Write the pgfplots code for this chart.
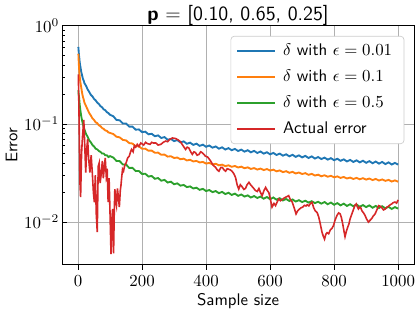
\documentclass[border=0pt]{standalone}
\usepackage{pgfplots}
\pgfplotsset{compat=1.18}
\definecolor{tabblue}{HTML}{1F77B4}
\definecolor{taborange}{HTML}{FF7F0E}
\definecolor{tabgreen}{HTML}{2CA02C}
\definecolor{tabred}{HTML}{D62728}
\definecolor{gridgray}{HTML}{B0B0B0}
\definecolor{leggray}{HTML}{CCCCCC}
\begin{document}
\begin{tikzpicture}
\begin{axis}[
  scale only axis,
  width=209pt, height=141.7pt,
  xmin=-50, xmax=1050,
  ymode=log, ymin=0.00368, ymax=1,
  xtick={0,200,400,600,800,1000},
  ytick={0.01,0.1,1},
  xticklabel style={/pgf/number format/1000 sep={}, inner xsep=0pt},
  yticklabel style={inner xsep=1.5pt},
  tick pos=left,
  xtick align=outside,
  ytick align=inside,
  major tick length=3pt, minor tick length=1.8pt,
  every tick/.style={black, line width=0.5pt},
  grid=major,
  major grid style={gridgray, line width=0.5pt},
  axis line style={line width=0.6pt},
  xlabel={\sffamily Sample size},
  ylabel={\sffamily Error},
  xlabel style={yshift=3pt},
  ylabel style={yshift=-1pt},
  title={\sffamily\textbf{p} $=$ [0.10, 0.65, 0.25]},
  title style={font=\large, yshift=-9.5pt},
  legend style={at={(0.972,0.958)}, anchor=north east, font=\sffamily,
    draw=leggray, rounded corners=2pt, fill=white,
    row sep=3pt, inner xsep=3pt, inner ysep=2.5pt,
    nodes={inner xsep=4pt}},
  legend cell align=left,
  legend image code/.code={\draw[#1, line width=1.3pt] (0cm,0.15pt) -- (0.8cm,0.15pt);},
]
\addplot[tabblue, line width=1.1pt] coordinates {
(1,0.61)(2,0.55)(3,0.50)(4,0.47)(5,0.43)(7,0.39)(10,0.34)(13,0.31)(15,0.29)(18,0.275)(20,0.26)(25,0.245)(30,0.225)(35,0.212)(40,0.198)(45,0.191)(50,0.180)(55,0.174)(60,0.165)(65,0.160)(70,0.152)(75,0.148)(80,0.141)(85,0.138)(90,0.132)(95,0.129)
(100,0.124)(110,0.120)(120,0.110)(130,0.109)(140,0.101)(150,0.101)(160,0.094)(170,0.094)(180,0.0875)(190,0.088)
(200,0.0825)(210,0.0835)(220,0.0785)(230,0.0795)(240,0.075)(250,0.0765)(260,0.072)(270,0.0735)(280,0.069)(290,0.0705)
(300,0.0668)(310,0.0685)(320,0.0648)(330,0.0665)(340,0.0628)(350,0.0645)(360,0.0612)(370,0.063)(380,0.0598)(390,0.0616)
(400,0.0585)(410,0.0603)(420,0.0573)(430,0.059)(440,0.056)(450,0.0578)(460,0.0549)(470,0.0567)(480,0.054)(490,0.0557)
(500,0.053)(510,0.0548)(520,0.0522)(530,0.054)(540,0.0514)(550,0.0532)(560,0.0506)(570,0.0524)(580,0.0498)(590,0.0515)
(600,0.049)(610,0.0507)(620,0.0483)(630,0.0499)(640,0.0475)(650,0.0491)(660,0.0468)(670,0.0485)(680,0.0462)(690,0.0479)
(700,0.0456)(710,0.0473)(720,0.045)(730,0.0467)(740,0.0444)(750,0.046)(760,0.0439)(770,0.0454)(780,0.0433)(790,0.0448)
(800,0.0427)(810,0.0442)(820,0.0421)(830,0.0436)(840,0.0415)(850,0.043)(860,0.041)(870,0.0426)(880,0.0406)(890,0.0422)
(900,0.0402)(910,0.0418)(920,0.0398)(930,0.0414)(940,0.0394)(950,0.041)(960,0.039)(970,0.0406)(980,0.0386)(990,0.0401)(1000,0.0385)
};
\addlegendentry{$\delta$ with $\epsilon=0.01$}
\addplot[taborange, line width=1.1pt] coordinates {
(1,0.52)(2,0.44)(3,0.38)(4,0.34)(5,0.31)(7,0.27)(10,0.235)(13,0.205)(15,0.19)(18,0.176)(20,0.165)(25,0.152)(30,0.14)(35,0.129)(40,0.122)(45,0.114)(50,0.11)(55,0.104)(60,0.102)(65,0.097)(70,0.095)(75,0.091)(80,0.089)(85,0.086)(90,0.085)(95,0.082)
(100,0.0810)(110,0.0790)(120,0.0742)(130,0.0730)(140,0.0688)(150,0.0680)(160,0.0638)(170,0.0632)(180,0.0594)(190,0.0592)
(200,0.0559)(210,0.0560)(220,0.0534)(230,0.0535)(240,0.0509)(250,0.0510)(260,0.0485)(270,0.0488)(280,0.0465)(290,0.0469)
(300,0.0450)(310,0.0455)(320,0.0437)(330,0.0443)(340,0.0425)(350,0.0431)(360,0.0415)(370,0.0420)(380,0.0405)(390,0.0410)
(400,0.0395)(410,0.0401)(420,0.0387)(430,0.0393)(440,0.0379)(450,0.0385)(460,0.0372)(470,0.0379)(480,0.0366)(490,0.0373)
(500,0.0360)(510,0.0367)(520,0.0354)(530,0.0361)(540,0.0348)(550,0.0355)(560,0.0343)(570,0.0351)(580,0.0339)(590,0.0347)
(600,0.0335)(610,0.0342)(620,0.0329)(630,0.0336)(640,0.0323)(650,0.0330)(660,0.0318)(670,0.0325)(680,0.0313)(690,0.0320)
(700,0.0309)(710,0.0315)(720,0.0303)(730,0.0310)(740,0.0298)(750,0.0304)(760,0.0293)(770,0.0300)(780,0.0290)(790,0.0296)
(800,0.0286)(810,0.0292)(820,0.0282)(830,0.0288)(840,0.0278)(850,0.0284)(860,0.0275)(870,0.0282)(880,0.0273)(890,0.0280)
(900,0.0271)(910,0.0278)(920,0.0268)(930,0.0275)(940,0.0265)(950,0.0272)(960,0.0263)(970,0.0269)(980,0.0259)(990,0.0266)(1000,0.0258)
};
\addlegendentry{$\delta$ with $\epsilon=0.1$}
\addplot[tabgreen, line width=1.1pt] coordinates {
(1,0.22)(2,0.20)(3,0.19)(4,0.175)(5,0.16)(7,0.14)(10,0.12)(13,0.107)(15,0.10)(18,0.092)(20,0.088)(25,0.079)(30,0.074)(35,0.068)(40,0.065)(45,0.061)(50,0.059)(55,0.056)(60,0.055)(65,0.053)(70,0.052)(75,0.050)(80,0.050)(85,0.048)(90,0.048)(95,0.046)
(100,0.0470)(110,0.0455)(120,0.0420)(130,0.0418)(140,0.0386)(150,0.0386)(160,0.0356)(170,0.0357)(180,0.0331)(190,0.0332)
(200,0.0309)(210,0.0311)(220,0.0291)(230,0.0295)(240,0.0276)(250,0.0281)(260,0.0264)(270,0.0269)(280,0.0253)(290,0.0258)
(300,0.0243)(310,0.0248)(320,0.0235)(330,0.0239)(340,0.0227)(350,0.0231)(360,0.0220)(370,0.0224)(380,0.0213)(390,0.0218)
(400,0.0207)(410,0.0212)(420,0.0202)(430,0.0207)(440,0.0197)(450,0.0203)(460,0.0193)(470,0.0199)(480,0.0189)(490,0.0195)
(500,0.0185)(510,0.0191)(520,0.0182)(530,0.0187)(540,0.0178)(550,0.0184)(560,0.0176)(570,0.0182)(580,0.0173)(590,0.0180)
(600,0.0171)(610,0.0178)(620,0.0169)(630,0.0175)(640,0.0166)(650,0.0172)(660,0.0164)(670,0.0170)(680,0.0162)(690,0.0167)
(700,0.0160)(710,0.0165)(720,0.0158)(730,0.0163)(740,0.0156)(750,0.0161)(760,0.0154)(770,0.0160)(780,0.0152)(790,0.0158)
(800,0.0150)(810,0.0156)(820,0.0148)(830,0.0154)(840,0.0146)(850,0.0152)(860,0.0145)(870,0.0151)(880,0.0143)(890,0.0149)
(900,0.0142)(910,0.0148)(920,0.0140)(930,0.0146)(940,0.0139)(950,0.0145)(960,0.0138)(970,0.0143)(980,0.0136)(990,0.0142)(1000,0.0137)
};
\addlegendentry{$\delta$ with $\epsilon=0.5$}
\addplot[tabred, line width=0.95pt] coordinates {
(1,0.32)(3,0.13)(6,0.025)(8,0.018)(11,0.05)(14,0.075)(18,0.11)(21,0.06)(24,0.032)(27,0.055)(30,0.07)(33,0.045)(37,0.032)(41,0.048)(45,0.03)(48,0.02)(51,0.0159)(54,0.03)(57,0.012)(60,0.0079)(63,0.037)(66,0.04)(69,0.025)(72,0.03)(76,0.042)(79,0.028)(82,0.036)(85,0.045)(88,0.03)(91,0.035)(94,0.016)(97,0.028)(100,0.012)(103,0.0047)(106,0.011)(108,0.0136)(111,0.0048)(113,0.012)(115,0.0217)(118,0.016)(120,0.0147)(123,0.022)(126,0.018)(129,0.0142)(132,0.021)(134,0.0235)(137,0.03)(139,0.0345)(142,0.033)(146,0.038)(150,0.040)(155,0.045)(160,0.047)(164,0.052)(167,0.055)(172,0.052)(176,0.06)(180,0.058)(185,0.062)(190,0.059)(196,0.064)
(205,0.061)(211,0.065)(217,0.063)(225,0.062)(230,0.065)(235,0.064)(243,0.064)(250,0.061)(259,0.062)(266,0.065)(274,0.067)(280,0.066)(285,0.069)(295,0.072)(305,0.071)(312,0.069)(320,0.066)(328,0.060)(336,0.055)(341,0.058)(346,0.057)(352,0.052)(357,0.049)(362,0.052)(367,0.051)(372,0.048)(378,0.049)(383,0.052)(388,0.051)(393,0.049)(398,0.047)(405,0.046)(414,0.042)
(422,0.038)(430,0.036)(435,0.034)(440,0.033)(446,0.036)(451,0.036)(456,0.034)(461,0.033)(466,0.035)(471,0.0345)(476,0.034)(481,0.033)(487,0.031)(492,0.0285)(497,0.024)(502,0.0217)(507,0.024)(512,0.023)(518,0.0215)(523,0.022)(528,0.024)(534,0.0254)(539,0.024)(544,0.023)(549,0.022)(554,0.021)(560,0.0205)(565,0.022)(570,0.020)(575,0.0186)(581,0.021)(586,0.0226)(591,0.021)(596,0.020)(601,0.017)(606,0.0142)(612,0.0155)(617,0.0147)(622,0.016)(627,0.0172)(632,0.0165)(638,0.017)(643,0.0175)(648,0.0179)(653,0.0182)(658,0.0186)(663,0.017)(669,0.016)(675,0.014)(681,0.0121)(686,0.013)(691,0.0135)(697,0.014)(702,0.0142)(707,0.0148)(712,0.0146)(716,0.015)(721,0.0146)(726,0.0155)(731,0.0159)(736,0.014)(741,0.013)(747,0.0125)(752,0.0112)(757,0.0095)(762,0.0079)(766,0.0072)(770,0.0067)(774,0.0075)(778,0.0078)(783,0.0076)(788,0.0083)(793,0.0086)(798,0.0092)(803,0.0105)(809,0.0117)(814,0.0124)(819,0.0121)(823,0.011)(827,0.0095)(831,0.008)(834,0.0071)(838,0.008)(842,0.0088)(846,0.0095)(850,0.0108)(855,0.012)(861,0.0136)(865,0.0148)(869,0.0153)(873,0.0142)(876,0.0136)(880,0.0142)(883,0.0140)(887,0.013)(891,0.0125)(896,0.0118)(901,0.0108)(907,0.010)(912,0.0104)(917,0.0108)(922,0.0115)(928,0.0121)(933,0.0132)(939,0.0147)(944,0.0145)(949,0.014)(954,0.0133)(960,0.0136)(965,0.0142)(970,0.0145)(975,0.015)(980,0.0153)(985,0.0158)(990,0.016)(995,0.0156)(1000,0.0168)
};
\addlegendentry{Actual error}
\end{axis}
\end{tikzpicture}
\end{document}
